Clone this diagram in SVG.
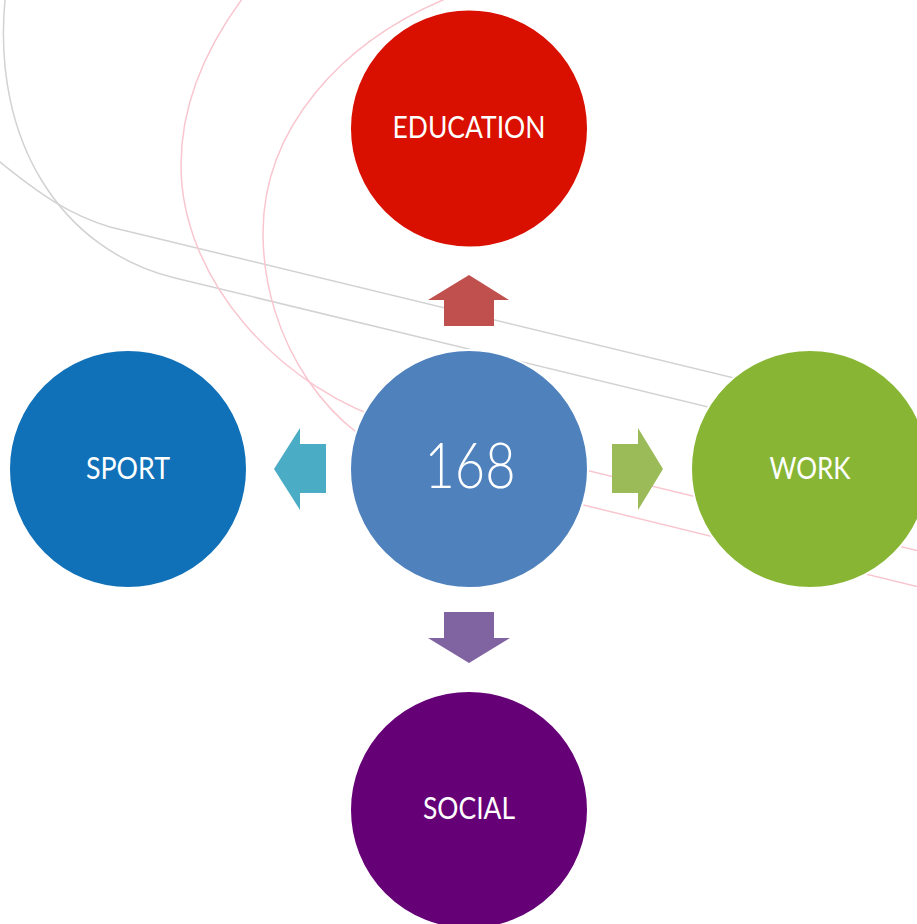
<svg xmlns="http://www.w3.org/2000/svg" width="917" height="924" viewBox="0 0 917 924">
<style>
.bg{fill:none;stroke-width:1.5}
.gray{stroke:#D2D2D2}
.pink{stroke:#F9C6CF}
.node circle{stroke:#FFFFFF;stroke-width:2}
.lbl{fill:#FFFFFF;font-family:Lato,'Liberation Sans',sans-serif;font-weight:400;text-anchor:middle}
.big{font-weight:300}
</style>
<rect width="917" height="924" fill="#FFFFFF"/>
<g id="background">
<path class="bg gray" d="M5,0 C-8,140 60,250 175,278 L917,457.5"/>
<path class="bg gray" d="M-5,158 C40,195 70,215 110,227 L917,422.3"/>
<path class="bg pink" d="M245,-5 C200,55 181,110 181,165 C181,280 280,390 400,425 L917,550.4"/>
<path class="bg pink" d="M455,-5 C340,40 263,130 263,233 C263,340 330,440 420,465 L917,586.6"/>
</g>
<g id="connectors">
<polygon id="arrow-up" fill="#C0504D" points="469,275 509,300 494,300 494,326 444,326 444,300 428,300"/>
<polygon id="arrow-left" fill="#4BACC6" points="274,469 300,428 300,444 326,444 326,493 300,493 300,510"/>
<polygon id="arrow-right" fill="#9BBB59" points="663,469 638,428 638,444 612,444 612,493 638,493 638,510"/>
<polygon id="arrow-down" fill="#8064A2" points="469,663 428,638 444,638 444,612 494,612 494,638 510,638"/>
</g>
<g id="node-education" class="node">
<circle cx="469" cy="128.5" r="119" fill="#D90F00"/>
<text class="lbl" x="469" y="138" font-size="30" textLength="153" lengthAdjust="spacingAndGlyphs">EDUCATION</text>
</g>
<g id="node-center" class="node">
<circle cx="469" cy="469" r="119" fill="#4F81BD"/>
<text class="lbl big" x="470" y="488" font-size="64" textLength="91" lengthAdjust="spacingAndGlyphs">168</text>
</g>
<g id="node-sport" class="node">
<circle cx="128" cy="469" r="119" fill="#1071B8"/>
<text class="lbl" x="128" y="479" font-size="30" textLength="84" lengthAdjust="spacingAndGlyphs">SPORT</text>
</g>
<g id="node-work" class="node">
<circle cx="810" cy="469" r="119" fill="#88B634"/>
<text class="lbl" x="810" y="479" font-size="30" textLength="81" lengthAdjust="spacingAndGlyphs">WORK</text>
</g>
<g id="node-social" class="node">
<circle cx="469" cy="810" r="119" fill="#660077"/>
<text class="lbl" x="469" y="819" font-size="30" textLength="92" lengthAdjust="spacingAndGlyphs">SOCIAL</text>
</g>
</svg>
